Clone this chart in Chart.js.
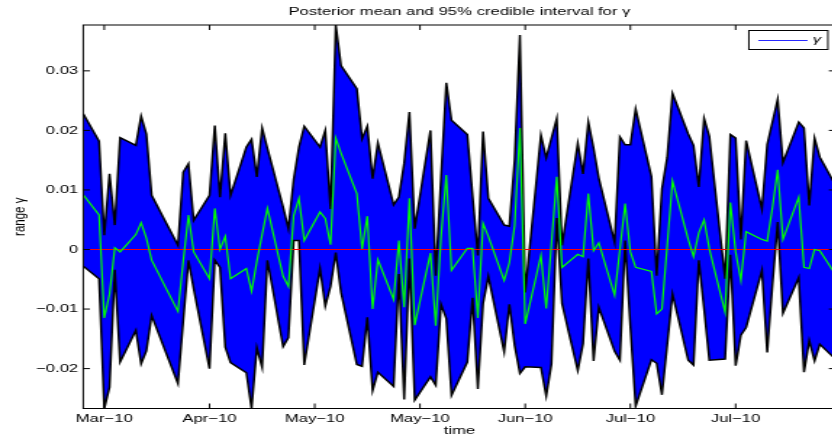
<!DOCTYPE html>
<html>
<head>
<meta charset="utf-8">
<script src="https://cdn.jsdelivr.net/npm/chart.js@4.4.1/dist/chart.umd.min.js"></script>
<style>
    html, body { margin: 0; padding: 0; background: #fff; overflow: hidden; }
    /* figure is laid out narrow and stretched sideways, like the exported image */
    #wrap { width: 577px; height: 439px; transform: scaleX(1.45); transform-origin: 0 0; }
</style>
</head>
<body>
<div id="wrap"><canvas id="gammaChart"></canvas></div>
<script>
// trading days, counted from the first observation
const days = [0, 3, 4, 5, 6, 7, 10, 11, 12, 13, 18, 19, 20, 21, 24, 25, 26, 27, 28,
    31, 32, 33, 34, 35, 38, 39, 40, 41, 42, 45, 46, 47, 48, 49, 52, 53, 54, 55, 56,
    59, 60, 61, 62, 63, 66, 67, 68, 69, 70, 73, 74, 75, 76, 77, 80, 81, 82, 83, 84,
    87, 88, 89, 90, 91, 94, 95, 96, 97, 98, 101, 102, 103, 104, 105, 108, 109, 110, 111, 112,
    115, 116, 117, 118, 119, 122, 123, 124, 125, 126, 129, 130, 131, 132, 133,
    136, 137, 138, 139, 140, 143];

// upper bound of the 95% interval
const upper = [0.0228, 0.0182, 0.0024, 0.0127, 0.0041, 0.0188, 0.0175, 0.0224, 0.0194, 0.0091,
    0.0007, 0.0130, 0.0144, 0.0049, 0.0091, 0.0208, 0.0088, 0.0195, 0.0091,
    0.0172, 0.0185, 0.0122, 0.0204, 0.0170, 0.0071, 0.0035, 0.0118, 0.0172, 0.0207,
    0.0172, 0.0200, 0.0068, 0.0377, 0.0309, 0.0270, 0.0186, 0.0207, 0.0119, 0.0179,
    0.0075, 0.0088, 0.0145, 0.0231, 0.0035, 0.0200, -0.0044, 0.0120, 0.0280, 0.0217,
    0.0193, 0.0090, -0.0010, 0.0198, 0.0086, 0.0041, 0.0039, 0.0150, 0.0360, -0.0072,
    0.0192, 0.0154, 0.0187, 0.0220, 0.0007, 0.0178, 0.0127, 0.0214, 0.0170, 0.0120,
    0.0012, 0.0189, 0.0176, 0.0176, 0.0236, 0.0122, -0.0044, 0.0102, 0.0155, 0.0262,
    0.0194, 0.0175, 0.0105, 0.0220, 0.0190, -0.0049, 0.0193, 0.0187, 0.0017, 0.0183,
    0.0068, 0.0176, 0.0214, 0.0252, 0.0146, 0.0214, 0.0204, 0.0074, 0.0187, 0.0155, 0.0108];

// lower bound of the 95% interval
const lower = [-0.0028, -0.0049, -0.0267, -0.0231, -0.0034, -0.0189, -0.0136, -0.0192, -0.0170, -0.0111,
    -0.0225, -0.0120, -0.0018, -0.0066, -0.0200, -0.0018, -0.0030, -0.0164, -0.0190,
    -0.0207, -0.0267, -0.0165, -0.0198, -0.0018, -0.0163, -0.0148, 0.0015, 0.0015, -0.0194,
    -0.0032, -0.0095, -0.0062, -0.0005, -0.0072, -0.0193, -0.0196, -0.0114, -0.0237, -0.0206,
    -0.0230, -0.0041, -0.0252, -0.0015, -0.0253, -0.0214, -0.0228, -0.0092, -0.0116, -0.0245,
    -0.0189, -0.0081, -0.0234, -0.0091, -0.0045, -0.0172, -0.0092, -0.0161, -0.0208, -0.0197,
    -0.0198, -0.0246, -0.0192, 0.0053, -0.0091, -0.0203, -0.0158, -0.0015, -0.0187, -0.0097,
    -0.0171, -0.0186, 0.0015, -0.0130, -0.0263, -0.0185, -0.0191, -0.0244, -0.0160, -0.0075,
    -0.0186, -0.0194, -0.0018, -0.0100, -0.0186, -0.0184, -0.0009, -0.0195, -0.0144, -0.0131,
    -0.0035, -0.0173, -0.0060, 0.0046, -0.0107, -0.0047, -0.0206, -0.0153, -0.0187, -0.0159, -0.0184];

// posterior mean of gamma
const mean = [0.0092, 0.0058, -0.0115, -0.0075, 0.0003, -0.0004, 0.0025, 0.0045, 0.0019, -0.0018,
    -0.0104, -0.0020, 0.0058, -0.0004, -0.0049, 0.0069, 0.0000, 0.0022, -0.0049,
    -0.0032, -0.0070, -0.0020, 0.0025, 0.0069, -0.0045, -0.0062, 0.0057, 0.0086, 0.0015,
    0.0063, 0.0052, 0.0008, 0.0187, 0.0162, 0.0094, 0.0001, 0.0056, -0.0100, -0.0017,
    -0.0084, 0.0015, -0.0097, 0.0086, -0.0127, -0.0006, -0.0128, 0.0020, 0.0125, -0.0035,
    0.0002, 0.0002, -0.0115, 0.0044, 0.0022, -0.0052, -0.0022, 0.0040, 0.0204, -0.0125,
    -0.0010, -0.0099, 0.0010, 0.0122, -0.0030, -0.0008, -0.0012, 0.0094, -0.0002, 0.0011,
    -0.0077, 0.0000, 0.0077, -0.0004, -0.0030, -0.0037, -0.0108, -0.0100, 0.0007, 0.0115,
    0.0017, -0.0012, 0.0028, 0.0050, 0.0001, -0.0105, 0.0079, -0.0004, -0.0052, 0.0030,
    0.0017, 0.0014, 0.0070, 0.0134, 0.0017, 0.0088, -0.0030, -0.0032, 0.0000, -0.0002, -0.0042];

const tickDays = [4, 24, 44, 64, 84, 104, 124];
const tickLabels = ['Mar\u221210', 'Apr\u221210', 'May\u221210', 'May\u221210', 'Jun\u221210', 'Jul\u221210', 'Jul\u221210'];
const yTicks = [-0.02, -0.01, 0, 0.01, 0.02, 0.03];

const font = { family: '"Liberation Sans", Arial, Helvetica, sans-serif', size: 11.5, weight: 'normal' };
Chart.defaults.font.family = font.family;
Chart.defaults.color = '#000';

const toPoints = (vals) => vals.map((v, i) => ({ x: days[i], y: v }));

// axes box with inward tick marks on all four sides
const axesBox = {
    id: 'axesBox',
    afterDatasetsDraw(chart) {
        const { ctx, chartArea: a, scales: { x, y } } = chart;
        ctx.save();
        ctx.strokeStyle = '#000';
        ctx.lineWidth = 1;
        ctx.strokeRect(a.left, a.top, a.right - a.left, a.bottom - a.top);
        ctx.beginPath();
        tickDays.forEach(d => {
            const px = x.getPixelForValue(d);
            ctx.moveTo(px, a.top); ctx.lineTo(px, a.top + 5);
            ctx.moveTo(px, a.bottom); ctx.lineTo(px, a.bottom - 5);
        });
        yTicks.forEach(v => {
            const py = y.getPixelForValue(v);
            ctx.moveTo(a.left, py); ctx.lineTo(a.left + 4.6, py);
            ctx.moveTo(a.right, py); ctx.lineTo(a.right - 4.6, py);
        });
        ctx.stroke();
        ctx.restore();
    }
};

// boxed legend in the top right corner
const gammaLegend = {
    id: 'gammaLegend',
    afterDraw(chart) {
        const { ctx, chartArea: a } = chart;
        const w = 54.5, h = 19;
        const left = a.right - 5.3 - w, top = Math.round(a.top + 5) + 0.5;
        const midY = Math.round(top + h / 2) + 0.5;
        ctx.save();
        ctx.fillStyle = '#fff';
        ctx.fillRect(left, top, w, h);
        ctx.strokeStyle = '#000';
        ctx.lineWidth = 1;
        ctx.strokeRect(left, top, w, h);
        ctx.strokeStyle = 'rgb(40,40,255)';
        ctx.beginPath();
        ctx.moveTo(left + 6.5, midY);
        ctx.lineTo(left + 40.5, midY);
        ctx.stroke();
        ctx.fillStyle = '#000';
        ctx.font = 'italic 11.5px ' + font.family;
        ctx.textBaseline = 'middle';
        ctx.fillText('\u03b3', left + 44, top + h / 2);
        ctx.restore();
    }
};

new Chart(document.getElementById('gammaChart'), {
    type: 'line',
    data: {
        datasets: [
            {
                label: 'mean',
                data: toPoints(mean),
                borderColor: 'rgb(0,255,0)',
                borderWidth: 1.2,
                pointRadius: 0,
                fill: false
            },
            {
                label: 'zero',
                data: [{ x: days[0], y: 0 }, { x: days[days.length - 1], y: 0 }],
                borderColor: 'rgb(255,0,0)',
                borderWidth: 1.2,
                pointRadius: 0,
                fill: false
            },
            {
                label: 'upper',
                data: toPoints(upper),
                borderColor: '#000',
                borderWidth: 1.5,
                pointRadius: 0,
                backgroundColor: 'rgb(0,0,255)',
                fill: '+1'
            },
            {
                label: 'lower',
                data: toPoints(lower),
                borderColor: '#000',
                borderWidth: 1.5,
                pointRadius: 0,
                fill: false
            }
        ]
    },
    options: {
        responsive: true,
        maintainAspectRatio: false,
        animation: false,
        layout: { padding: 0 },
        elements: { line: { tension: 0 } },
        plugins: {
            legend: { display: false },
            tooltip: { enabled: false },
            filler: { drawTime: 'beforeDatasetsDraw' },
            title: {
                display: true,
                fullSize: false,
                text: 'Posterior mean and 95% credible interval for \u03b3',
                font: font,
                color: '#000',
                padding: { top: 5, bottom: 6.2 }
            }
        },
        scales: {
            x: {
                type: 'linear',
                min: 0,
                max: 143,
                afterBuildTicks: (scale) => { scale.ticks = tickDays.map(v => ({ value: v })); },
                afterFit: (scale) => { scale.height = 30.5; },
                ticks: {
                    autoSkip: false,
                    maxRotation: 0,
                    padding: 3,
                    font: font,
                    color: '#000',
                    callback: (value, index) => tickLabels[index]
                },
                grid: { display: false, drawTicks: false },
                border: { display: false },
                title: { display: true, text: 'time', font: font, color: '#000', padding: { top: 0, bottom: 1.1 } }
            },
            y: {
                type: 'linear',
                min: -0.0267,
                max: 0.0377,
                afterBuildTicks: (scale) => { scale.ticks = yTicks.map(v => ({ value: v })); },
                afterFit: (scale) => { scale.width = 57.4; },
                ticks: {
                    padding: 3.4,
                    font: font,
                    color: '#000',
                    callback: (v) => v === 0 ? '0' : (v < 0 ? '\u2212' : '') + Math.abs(v).toFixed(2)
                },
                grid: { display: false, drawTicks: false },
                border: { display: false },
                title: { display: true, text: 'range \u03b3', font: font, color: '#000', padding: { top: 6.9, bottom: 0 } }
            }
        }
    },
    plugins: [axesBox, gammaLegend]
});
</script>
</body>
</html>
